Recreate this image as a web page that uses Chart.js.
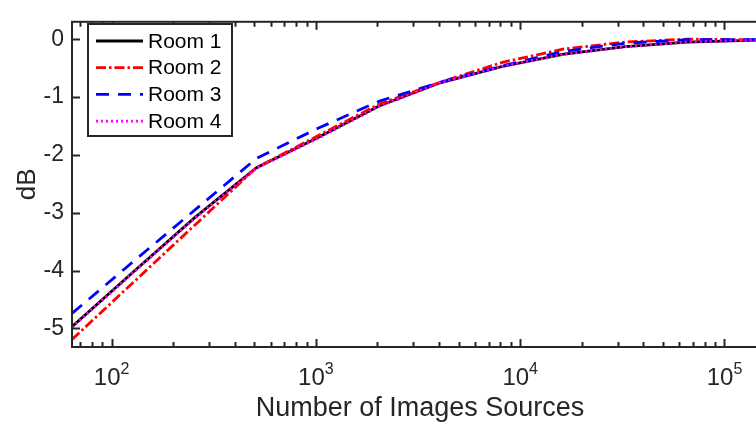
<!DOCTYPE html>
<html><head><meta charset="utf-8">
<script src="https://cdn.jsdelivr.net/npm/chart.js@4/dist/chart.umd.min.js"></script>
<style>
html,body{margin:0;padding:0;background:#fff;overflow:hidden;}
#wrap{width:756px;height:423px;overflow:hidden;position:relative;background:#fff;}
canvas{display:block;}
</style></head><body>
<div id="wrap"><canvas id="c" width="770" height="423"></canvas></div>
<script>
// ---- data ----
const imageSources = [64, 128, 256, 512, 1024, 2048, 4096, 8192, 16384, 32768, 65536, 131072, 262144];
const room1 = [-4.97, -4.02, -3.08, -2.22, -1.70, -1.15, -0.75, -0.47, -0.26, -0.13, -0.05, -0.02, 0];
const room2 = [-5.19, -4.20, -3.21, -2.22, -1.67, -1.12, -0.74, -0.40, -0.17, -0.05, 0.00, -0.01, 0];
const room3 = [-4.74, -3.84, -2.95, -2.06, -1.54, -1.07, -0.74, -0.46, -0.21, -0.07, -0.01, -0.01, 0];
const room4 = [-4.98, -4.03, -3.09, -2.23, -1.71, -1.16, -0.75, -0.47, -0.26, -0.13, -0.05, -0.02, 0];
const seriesNames = ['Room 1', 'Room 2', 'Room 3', 'Room 4'];
const xTickExponents = [2, 3, 4, 5];
const yTickValues = [-5, -4, -3, -2, -1, 0];
const xTitle = 'Number of Images Sources';
const yTitle = 'dB';

const FONT = "'Liberation Sans', Arial, Helvetica, sans-serif";
const AX = '#262626';

const styles = [
  {color: '#000000', dash: [], order: 4},
  {color: '#ff0000', dash: [10, 3, 2.5, 3], order: 3},
  {color: '#0000ff', dash: [13, 9], order: 2},
  {color: '#ff00ff', dash: [2, 3], order: 1}
];
const seriesValues = [room1, room2, room3, room4];

const datasets = seriesValues.map((vals, k) => ({
  label: seriesNames[k],
  data: imageSources.map((x, i) => ({x: x, y: vals[i]})),
  borderColor: styles[k].color,
  backgroundColor: styles[k].color,
  borderDash: styles[k].dash,
  borderWidth: 2.8,
  pointRadius: 0,
  fill: false,
  tension: 0,
  order: styles[k].order
}));

const decor = {
  id: 'decor',
  afterDraw(chart) {
    const ctx = chart.ctx;
    const a = chart.chartArea;
    const xs = chart.scales.x, ys = chart.scales.y;
    ctx.save();
    ctx.strokeStyle = AX;
    ctx.lineWidth = 2;
    ctx.setLineDash([]);
    ctx.strokeRect(a.left, a.top, a.right - a.left, a.bottom - a.top);
    for (let e = 1; e <= 6; e++) {
      for (let m = 1; m <= 9; m++) {
        const v = m * Math.pow(10, e);
        if (v < xs.min || v > xs.max) continue;
        const px = Math.round(xs.getPixelForValue(v)) + 0.5;
        const len = m === 1 ? 8 : 5;
        ctx.beginPath();
        ctx.moveTo(px, a.bottom); ctx.lineTo(px, a.bottom - len);
        ctx.moveTo(px, a.top); ctx.lineTo(px, a.top + len);
        ctx.stroke();
      }
    }
    yTickValues.forEach(v => {
      const py = Math.round(ys.getPixelForValue(v)) + 0.5;
      ctx.beginPath();
      ctx.moveTo(a.left, py); ctx.lineTo(a.left + 8, py);
      ctx.moveTo(a.right, py); ctx.lineTo(a.right - 8, py);
      ctx.stroke();
    });
    ctx.fillStyle = AX;
    ctx.textBaseline = 'alphabetic';
    xTickExponents.forEach(e => {
      const px = xs.getPixelForValue(Math.pow(10, e));
      ctx.font = '24px ' + FONT;
      const w1 = ctx.measureText('10').width;
      ctx.font = '16px ' + FONT;
      const w2 = ctx.measureText(String(e)).width;
      const x0 = px - (w1 + w2) / 2;
      ctx.font = '24px ' + FONT;
      ctx.textAlign = 'left';
      ctx.fillText('10', x0, 385);
      ctx.font = '16px ' + FONT;
      ctx.fillText(String(e), x0 + w1, 374);
    });
    const lx = 88, ly = 24, lw = 144, lh = 112;
    ctx.fillStyle = '#ffffff';
    ctx.fillRect(lx, ly, lw, lh);
    ctx.strokeStyle = AX;
    ctx.lineWidth = 2;
    ctx.strokeRect(lx, ly, lw, lh);
    seriesNames.forEach((name, k) => {
      const y = 41 + k * 26.7;
      ctx.strokeStyle = styles[k].color;
      ctx.lineWidth = 2.8;
      ctx.setLineDash(styles[k].dash);
      ctx.beginPath();
      ctx.moveTo(96, y); ctx.lineTo(143, y);
      ctx.stroke();
      ctx.setLineDash([]);
      ctx.fillStyle = '#000000';
      ctx.font = '21px ' + FONT;
      ctx.textAlign = 'left';
      ctx.textBaseline = 'middle';
      ctx.fillText(name, 148, y + 1);
    });
    ctx.restore();
  }
};

new Chart(document.getElementById('c'), {
  type: 'line',
  data: {datasets: datasets},
  options: {
    responsive: false,
    animation: false,
    devicePixelRatio: 1,
    layout: {padding: {top: 10, right: 2, left: 0, bottom: 0}},
    plugins: {legend: {display: false}, tooltip: {enabled: false}},
    scales: {
      x: {
        type: 'logarithmic',
        position: 'bottom',
        min: 64,
        max: 163300,
        grid: {display: false, drawTicks: false},
        border: {display: false},
        ticks: {display: false},
        title: {display: true, text: xTitle, color: AX, font: {family: FONT, size: 27}, padding: {top: 0, bottom: -2}},
        afterFit(s) { s.height = 76; }
      },
      y: {
        type: 'linear',
        min: -5.32,
        max: 0.3,
        grid: {display: false, drawTicks: false},
        border: {display: false},
        ticks: {
          stepSize: 1,
          includeBounds: false,
          padding: 8,
          color: AX,
          font: {family: FONT, size: 23},
          callback: v => (yTickValues.includes(v) ? String(v) : '')
        },
        title: {display: true, text: yTitle, color: AX, font: {family: FONT, size: 26}, padding: {top: 12, bottom: 0}},
        afterFit(s) { s.width = 72; }
      }
    }
  },
  plugins: [decor]
});
</script>
</body></html>
